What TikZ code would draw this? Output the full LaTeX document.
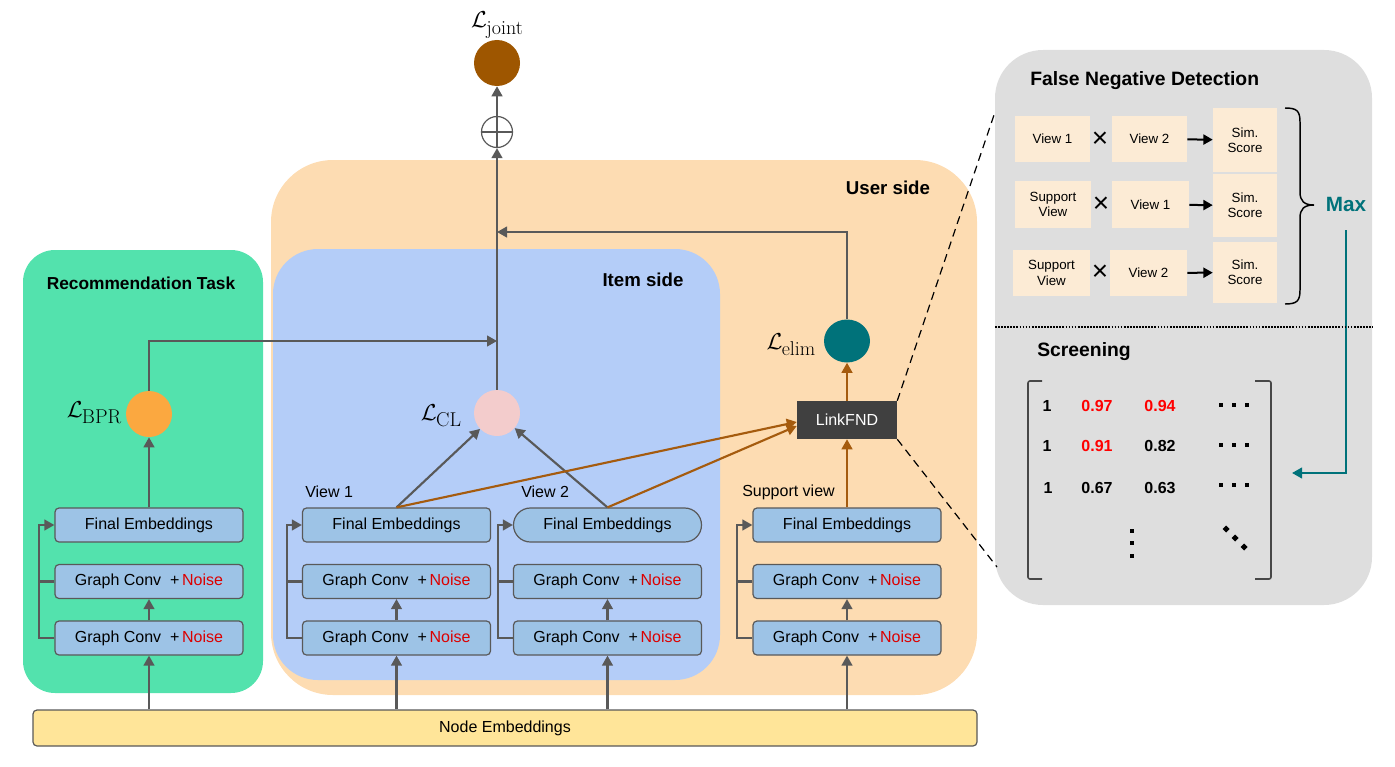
\documentclass[tikz,border=0pt]{standalone}
\usepackage{fontspec}
\setsansfont{Liberation Sans}
\usetikzlibrary{arrows.meta,decorations.pathreplacing,calc,shapes.geometric}
\newdimen\px \px=0.75pt
\definecolor{greenbg}{RGB}{83,226,173}
\definecolor{orangebg}{RGB}{253,220,178}
\definecolor{bluebg}{RGB}{180,205,248}
\definecolor{graybg}{RGB}{222,222,222}
\definecolor{boxblue}{RGB}{157,195,230}
\definecolor{neyellow}{RGB}{255,229,153}
\definecolor{fndbox}{RGB}{252,235,213}
\definecolor{lineg}{RGB}{89,89,89}
\definecolor{brownl}{RGB}{165,91,14}
\definecolor{tealc}{RGB}{0,114,122}
\definecolor{jointc}{RGB}{158,86,0}
\definecolor{bprc}{RGB}{251,168,64}
\definecolor{clc}{RGB}{243,204,204}
\definecolor{noisered}{RGB}{220,0,0}
\definecolor{mred}{RGB}{255,0,0}
\definecolor{lfndc}{RGB}{64,64,64}
\newcommand{\lossl}[1]{{\fontsize{16}{16}\selectfont$\mathcal{L}$\kern-0.5pt\raisebox{-4.8pt}{\rmfamily\fontsize{15}{15}\selectfont #1}}}
\newcommand{\gctext}{Graph Conv \ +\,\textcolor{noisered}{Noise}}
\begin{document}
\begin{tikzpicture}[x=0.75pt,y=-0.75pt,
  base/.style={font=\sffamily\fontsize{12}{14}\selectfont, inner sep=0pt},
  blk/.style={base, draw=lineg, line width=0.9pt, fill=boxblue, rounded corners=3pt, minimum width=188\px, minimum height=34\px},
  pill/.style={blk, rounded corners=12.7pt},
  ne/.style={base, draw=lineg, line width=0.9pt, fill=neyellow, rounded corners=3pt, minimum width=944\px, minimum height=36\px},
  loss/.style={circle, minimum size=46\px, inner sep=0pt},
  gline/.style={draw=lineg, line width=1.6pt},
  garrow/.style={gline, -{Triangle[width=8pt,length=7.5pt]}},
  barrow/.style={draw=brownl, line width=1.6pt, -{Triangle[width=8pt,length=7.5pt]}},
  karrow/.style={draw=black, line width=1.5pt, -{Triangle[width=7.5pt,length=7pt]}},
  tarrow/.style={draw=tealc, line width=1.6pt, -{Triangle[width=8pt,length=7.5pt]}},
  head/.style={font=\sffamily\bfseries\fontsize{13}{15}\selectfont, inner sep=0pt},
  fnd/.style={font=\sffamily\fontsize{10}{11.5}\selectfont, fill=fndbox, inner sep=0pt, align=center},
  tms/.style={font=\sffamily\fontsize{21}{21}\selectfont, inner sep=0pt},
  mval/.style={font=\sffamily\bfseries\fontsize{12}{14}\selectfont, inner sep=0pt},
  bracket/.style={draw=lineg!80!black, line width=1.2pt, rounded corners=1.5pt},
  zoomline/.style={draw=black, line width=0.9pt, dash pattern=on 6pt off 4pt}
]
\useasboundingbox (0,0) rectangle (1395,767);
% background regions
\fill[greenbg, rounded corners=32\px] (23,250) rectangle (263,693);
\fill[orangebg, rounded corners=62\px] (271,160) rectangle (977,695);
\fill[bluebg, rounded corners=45\px] (273,249) rectangle (720,680);
\fill[graybg, rounded corners=48\px] (995,50) rectangle (1372,605);

% region titles
\node[head] (rtask) at (141,283) {Recommendation Task};
\node[head, font=\sffamily\bfseries\fontsize{14}{16}\selectfont] (iside) at (643,280) {Item side};
\node[head, font=\sffamily\bfseries\fontsize{14}{16}\selectfont] (uside) at (888,188) {User side};

% node embeddings
\node[ne] (ne) at (505,728) {Node Embeddings};

% column 0 (recommendation)
\node[blk] (fe0) at (149,525) {Final Embeddings};
\node[blk] (gc0a) at (149,581.5) {\gctext};
\node[blk] (gc0b) at (149,638) {\gctext};
% column 1 (view 1)
\node[blk] (fe1) at (396.5,525) {Final Embeddings};
\node[blk] (gc1a) at (396.5,581.5) {\gctext};
\node[blk] (gc1b) at (396.5,638) {\gctext};
\node[base, anchor=west] (lv1) at (305,492) {View 1};
% column 2 (view 2)
\node[pill] (fe2) at (607.5,525) {Final Embeddings};
\node[blk] (gc2a) at (607.5,581.5) {\gctext};
\node[blk] (gc2b) at (607.5,638) {\gctext};
\node[base, anchor=west] (lv2) at (521,492) {View 2};
% column 3 (support view)
\node[blk] (fe3) at (847,525) {Final Embeddings};
\node[blk] (gc3a) at (847,581.5) {\gctext};
\node[blk] (gc3b) at (847,638) {\gctext};
\node[base, anchor=west] (lsv) at (742,492) {Support view};

% losses
\node[loss, fill=bprc] (bpr) at (149,414) {};
\node[loss, fill=clc] (cl) at (497,413) {};
\node[ellipse, fill=tealc, inner sep=0pt, minimum width=46\px, minimum height=43\px] (elim) at (847,341) {};
\node[loss, fill=jointc] (joint) at (497,63) {};
\node[inner sep=0pt] (lbpr) at (94,413) {\lossl{BPR}};
\node[inner sep=0pt] (lcl) at (441,416) {\lossl{CL}};
\node[inner sep=0pt] (lelim) at (791,345) {\lossl{elim}};
\node[inner sep=0pt] (ljoint) at (497,25) {\lossl{joint}};
\node[circle, draw=lineg, line width=0.9pt, minimum size=31\px, inner sep=0pt] (oplus) at (497,132) {};
\draw[lineg, line width=0.9pt] (oplus.north) -- (oplus.south) (oplus.west) -- (oplus.east);

% LinkFND
\node[base, fill=lfndc, text=white, minimum width=100\px, minimum height=38\px] (lfnd) at (847,420) {LinkFND};

% embeddings to conv
\foreach \c in {0,1,2,3}{
  \draw[garrow] (ne.north -| gc\c b) -- (gc\c b);
  \draw[garrow] (gc\c b) -- (gc\c a);
  \draw[garrow] (gc\c b.west) -- ++(-15,0) |- (fe\c.west);
  \draw[gline] (gc\c a.west) -- ++(-15,0);
}
% to losses
\draw[garrow] (fe0) -- (bpr);
\draw[garrow] (fe1.north) -- (cl);
\draw[garrow] (fe2.north) -- (cl);
\draw[barrow] (fe1.north) -- ($(lfnd.west)+(0,2)$);
\draw[barrow] (fe2.north) -- ($(lfnd.west)+(0,6)$);
\draw[barrow] (fe3) -- (lfnd);
\draw[barrow] (lfnd) -- (elim);
\coordinate (m1) at (497,341);
\coordinate (m2) at (497,232);
\draw[garrow] (bpr.north) |- (m1);
\draw[garrow] (elim.north) |- (m2);
\draw[garrow] (cl) -- (oplus);
\draw[garrow] (oplus) -- (joint);

% zoom lines
\coordinate (z1) at (995,112);
\coordinate (z2) at (997,567);
\draw[zoomline] (lfnd.north east) -- (z1);
\draw[zoomline] (lfnd.south east) -- (z2);

% False negative detection panel
\node[head, anchor=west, font=\sffamily\bfseries\fontsize{14.5}{16}\selectfont] (fndt) at (1030,81) {False Negative Detection};
\node[fnd, minimum width=75\px, minimum height=46\px] (r1a) at (1052.5,139) {View 1};
\node[tms] (x1) at (1100,140) {×};
\node[fnd, minimum width=75\px, minimum height=46\px] (r1b) at (1149.5,139) {View 2};
\node[fnd, minimum width=64\px, minimum height=64\px] (s1) at (1245,140) {Sim.\\Score};
\draw[karrow] (r1b) -- (s1);
\node[fnd, minimum width=76\px, minimum height=47\px] (r2a) at (1053,204.5) {Support\\View};
\node[tms] (x2) at (1101,205) {×};
\node[fnd, minimum width=77\px, minimum height=47\px] (r2b) at (1150.5,204.5) {View 1};
\node[fnd, minimum width=64\px, minimum height=63\px] (s2) at (1245,205.5) {Sim.\\Score};
\draw[karrow] (r2b) -- (s2);
\node[fnd, minimum width=77\px, minimum height=46\px] (r3a) at (1051.5,273) {Support\\View};
\node[tms] (x3) at (1100,273) {×};
\node[fnd, minimum width=77\px, minimum height=46\px] (r3b) at (1148.5,273) {View 2};
\node[fnd, minimum width=64\px, minimum height=61\px] (s3) at (1245,272.5) {Sim.\\Score};
\draw[karrow] (r3b) -- (s3);
% brace
\draw[line width=1.1pt] (1285,108) .. controls (1297,108) and (1300,111) .. (1300,122)
  -- (1300,192) .. controls (1300,201) and (1304,205) .. (1314,205)
  .. controls (1304,205) and (1300,209) .. (1300,218)
  -- (1300,290) .. controls (1300,301) and (1297,304) .. (1285,304);
\node[head, text=tealc, font=\sffamily\bfseries\fontsize{15.5}{17}\selectfont] (max) at (1346,204) {Max};
\coordinate (t0) at (1346,230);
\coordinate (t1) at (1292,473);
\draw[tarrow] (t0) |- (t1);
\draw[densely dotted, line width=1.3pt] (995,327) -- (1373,327);

% screening
\node[head, anchor=west, font=\sffamily\bfseries\fontsize{14.5}{16}\selectfont] (scr) at (1037,352) {Screening};
\draw[bracket] (1042,381) -- (1028,381) -- (1028,579) -- (1042,579);
\draw[bracket] (1255,381) -- (1271,381) -- (1271,579) -- (1255,579);
\node[mval] (m11) at (1047,406) {1};
\node[mval, text=mred] (m12) at (1097,406) {0.97};
\node[mval, text=mred] (m13) at (1160,406) {0.94};
\node[mval] (m21) at (1047,446) {1};
\node[mval, text=mred] (m22) at (1097,446) {0.91};
\node[mval] (m23) at (1160,446) {0.82};
\node[mval] (m31) at (1048,488) {1};
\node[mval] (m32) at (1097,488) {0.67};
\node[mval] (m33) at (1160,488) {0.63};
\foreach \yy in {405,445,485}{
  \foreach \xx in {1221,1234,1247}{
    \fill (\xx-2.2,\yy-2.2) rectangle (\xx+2.2,\yy+2.2);
  }
}
\foreach \yy in {531,543,556}{
  \fill (1132-2.4,\yy-2.4) rectangle (1132+2.4,\yy+2.4);
}
\foreach \xx/\yy in {1226/529,1235/538,1244/547}{
  \fill (\xx,\yy-3.5) -- (\xx+3.5,\yy) -- (\xx,\yy+3.5) -- (\xx-3.5,\yy) -- cycle;
}
\end{tikzpicture}
\end{document}
